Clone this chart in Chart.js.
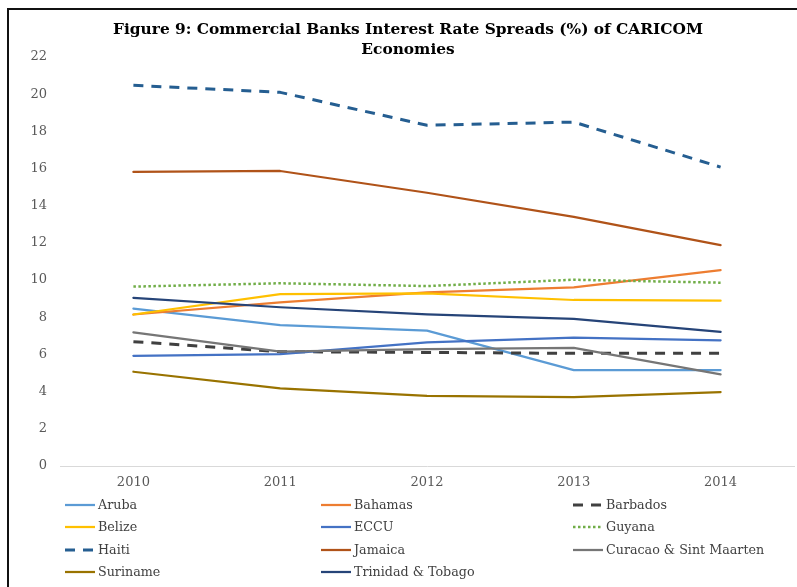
<!DOCTYPE html>
<html>
<head>
<meta charset="utf-8">
<script src="https://cdn.jsdelivr.net/npm/chart.js@4"></script>
<style>
    html, body { margin: 0; padding: 0; background: #fff; overflow: hidden; }
    #wrap { position: relative; width: 797px; height: 587px; overflow: hidden; }
    #chart { position: absolute; left: 0; top: 0; }
    #frame {
        position: absolute; left: 7px; top: 8px; width: 900px; height: 700px;
        border-left: 2px solid #111; border-top: 2px solid #111; pointer-events: none;
    }
</style>
</head>
<body>
<div id="wrap">
    <canvas id="chart" width="816" height="587"></canvas>
    <div id="frame"></div>
</div>
<script>
// ── Data ─────────────────────────────────────────────────
const years = ['2010', '2011', '2012', '2013', '2014'];

const aruba     = [8.46, 7.58, 7.28, 5.16, 5.16];
const bahamas   = [8.15, 8.80, 9.34, 9.61, 10.54];
const barbados  = [6.69, 6.15, 6.11, 6.06, 6.06];
const belize    = [8.15, 9.25, 9.29, 8.93, 8.89];
const eccu      = [5.93, 6.02, 6.65, 6.90, 6.76];
const guyana    = [9.65, 9.83, 9.68, 10.02, 9.86];
const haiti     = [20.48, 20.10, 18.33, 18.50, 16.08];
const jamaica   = [15.82, 15.87, 14.70, 13.40, 11.88];
const curacao   = [7.19, 6.15, 6.29, 6.36, 4.93];
const suriname  = [5.07, 4.18, 3.77, 3.71, 3.98];
const trinidad  = [9.05, 8.54, 8.16, 7.91, 7.21];

const seriesNames = [
    'Aruba', 'Bahamas', 'Barbados',
    'Belize', 'ECCU', 'Guyana',
    'Haiti', 'Jamaica', 'Curacao & Sint Maarten',
    'Suriname', 'Trinidad & Tobago',
];
const seriesValues = [aruba, bahamas, barbados, belize, eccu, guyana, haiti, jamaica, curacao, suriname, trinidad];
const seriesColors = [
    '#5B9BD5', '#ED7D31', '#404040',
    '#FFC000', '#4472C4', '#70AD47',
    '#255E91', '#B05319', '#767676',
    '#997300', '#264478',
];
const yTicks = [0, 2, 4, 6, 8, 10, 12, 14, 16, 18, 20, 22];

// line styles: solid by default, dashed / dotted for a few series
const dashStyles = { Barbados: [10, 8], Haiti: [10, 8], Guyana: [2.5, 2.5] };
const widths = { Barbados: 3, Haiti: 3, Guyana: 2.5 };

const serif = '"DejaVu Serif", serif';

const datasets = seriesNames.map((name, i) => ({
    label: name,
    data: seriesValues[i],
    borderColor: seriesColors[i],
    backgroundColor: seriesColors[i],
    borderWidth: widths[name] || 2.25,
    borderDash: dashStyles[name] || [],
    borderCapStyle: dashStyles[name] ? 'butt' : 'round',
    borderJoinStyle: 'round',
    pointRadius: 0,
    tension: 0,
    fill: false,
    order: seriesNames.length - i, // later series on top
}));

// ── Legend drawn in a 3-column grid below the axis ───────
const gridLegend = {
    id: 'gridLegend',
    afterDraw(chart, args, opts) {
        const ctx = chart.ctx;
        ctx.save();
        ctx.font = opts.font;
        ctx.textBaseline = 'middle';
        ctx.fillStyle = opts.color;
        chart.data.datasets.forEach((ds, i) => {
            const col = i % 3;
            const row = Math.floor(i / 3);
            const x = opts.colX[col];
            const y = opts.rowY[row];
            ctx.save();
            ctx.strokeStyle = ds.borderColor;
            ctx.lineWidth = ds.borderWidth;
            ctx.setLineDash(ds.borderDash);
            ctx.lineCap = 'butt';
            ctx.beginPath();
            ctx.moveTo(x, y);
            ctx.lineTo(x + opts.sample, y);
            ctx.stroke();
            ctx.restore();
            ctx.fillText(ds.label, x + opts.sample + 3, y + 1);
        });
        ctx.restore();
    },
};

const ctx = document.getElementById('chart').getContext('2d');
new Chart(ctx, {
    type: 'line',
    data: { labels: years, datasets },
    plugins: [gridLegend],
    options: {
        responsive: false,
        animation: false,
        layout: { padding: { left: 22, right: 22, top: 0, bottom: 97 } },
        plugins: {
            legend: { display: false },
            tooltip: { enabled: false },
            title: {
                display: true,
                text: ['Figure 9: Commercial Banks Interest Rate Spreads (%) of CARICOM', 'Economies'],
                color: '#000',
                font: { family: serif, size: 15.4, weight: 'bold', lineHeight: 1.3 },
                padding: { top: 20, bottom: -3 },
            },
            gridLegend: {
                font: '12.7px ' + serif,
                color: '#404040',
                colX: [65, 321, 573],
                rowY: [505, 527, 550, 572],
                sample: 30,
            },
        },
        scales: {
            x: {
                offset: true,
                grid: { display: false, drawTicks: false },
                border: { display: true, color: '#d9d9d9', width: 1 },
                ticks: { color: '#595959', font: { family: serif, size: 13 }, padding: 9 },
                afterFit: s => { s.height = 24; },
            },
            y: {
                min: 0,
                max: 22,
                afterBuildTicks: s => { s.ticks = yTicks.map(v => ({ value: v })); },
                grid: { display: false, drawTicks: false },
                border: { display: false },
                ticks: { color: '#595959', font: { family: serif, size: 13 }, padding: 13 },
                afterFit: s => { s.width = 38; },
            },
        },
    },
});
</script>
</body>
</html>
